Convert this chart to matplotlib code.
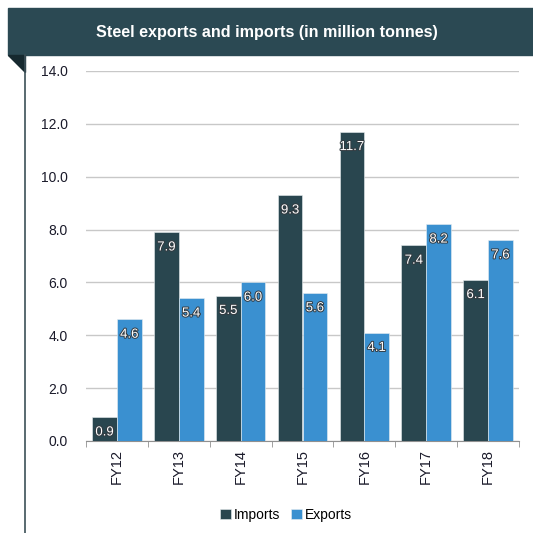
import numpy as np
import matplotlib
matplotlib.use("Agg")
import matplotlib.pyplot as plt
import matplotlib.patheffects as pe
from matplotlib.patches import Rectangle, Polygon
from matplotlib.lines import Line2D

YEARS   = ["FY12", "FY13", "FY14", "FY15", "FY16", "FY17", "FY18"]
IMPORTS = [0.9, 7.9, 5.5, 9.3, 11.7, 7.4, 6.1]
EXPORTS = [4.6, 5.4, 6.0, 5.6, 4.1, 8.2, 7.6]
TITLE   = "Steel exports and imports (in million tonnes)"

C_IMP = "#29464f"
C_EXP = "#3a90d0"
HEAD  = "#2b4953"

plt.rcParams["font.family"] = ["Liberation Sans", "DejaVu Sans"]

W = H = 533
fig = plt.figure(figsize=(W / 100, H / 100), dpi=100)

# ─── Décor : bandeau titre, coin plié, filet vertical ──────────────────────
fig.patches.append(Rectangle((8 / W, 1 - 55 / H), 1 - 8 / W, 47 / H,
                             transform=fig.transFigure, color=HEAD, zorder=0))
fig.patches.append(Polygon([(8 / W, 1 - 55 / H), (25 / W, 1 - 55 / H), (25 / W, 1 - 72 / H)],
                           closed=True, transform=fig.transFigure, color="#16292f", zorder=1))
fig.lines.append(Line2D([25 / W, 25 / W], [0, 1 - 55 / H], transform=fig.transFigure,
                        color="#3c5058", lw=1.2))
fig.text(267 / W, 1 - 32 / H, TITLE, color="white", fontsize=11.6, fontweight="bold",
         ha="center", va="center")

# ─── Barres ────────────────────────────────────────────────────────────────
ax = fig.add_axes([86 / W, 1 - 441 / H, (519 - 86) / W, (441 - 71) / H])
x = np.arange(len(YEARS))
bw = 0.4
b1 = ax.bar(x - bw / 2, IMPORTS, bw, color=C_IMP, label="Imports", zorder=3,
            edgecolor="#e8eef0", linewidth=0.4)
b2 = ax.bar(x + bw / 2, EXPORTS, bw, color=C_EXP, label="Exports", zorder=3,
            edgecolor="#e8eef0", linewidth=0.4)

stroke = [pe.withStroke(linewidth=1.4, foreground="#333a40")]
for bars, vals in ((b1, IMPORTS), (b2, EXPORTS)):
    for r, v in zip(bars, vals):
        ax.annotate(f"{v:.1f}", (r.get_x() + r.get_width() / 2, v), xytext=(0, -11),
                    textcoords="offset points", ha="center", va="center",
                    color="white", fontsize=9.5, path_effects=stroke, zorder=4)

ax.set_ylim(0, 14)
ax.set_xlim(-0.5, len(YEARS) - 0.5)
ax.set_yticks(np.arange(0, 15, 2))
ax.set_yticklabels([f"{v:.1f}" for v in np.arange(0, 15, 2)], fontsize=10, color="#1a1a2a")
ax.yaxis.grid(True, color="#c8c8c8", lw=1, zorder=0)
ax.tick_params(axis="y", length=0, pad=13)

ax.set_xticks(x)
ax.set_xticklabels(YEARS, rotation=90, fontsize=10.5, color="#1a1a2a")
ax.set_xticks(np.arange(-0.5, len(YEARS), 1), minor=True)
ax.tick_params(axis="x", which="major", length=0, pad=6)
ax.tick_params(axis="x", which="minor", length=4, color="#909090")

for s in ("top", "right", "left"):
    ax.spines[s].set_visible(False)
ax.spines["bottom"].set_color("#909090")

fig.legend(handles=[b1, b2], loc="center", bbox_to_anchor=(286 / W, 1 - 515 / H),
           ncol=2, frameon=False, fontsize=10, handlelength=0.8, handleheight=0.8,
           handletextpad=0.2, columnspacing=0.8)

plt.savefig("out.png", dpi=100)
